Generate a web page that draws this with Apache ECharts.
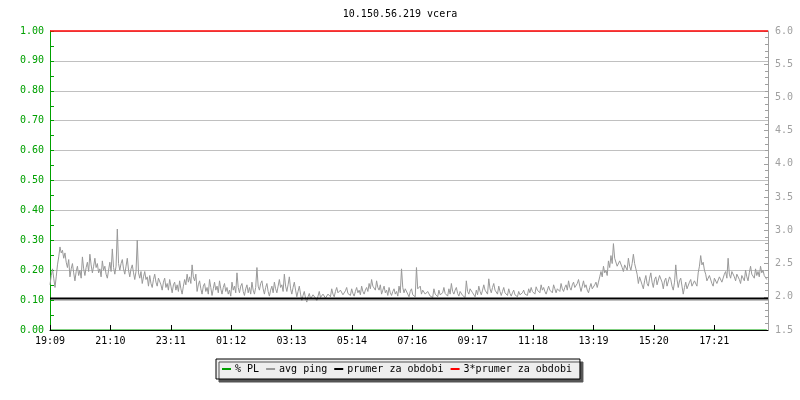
<!DOCTYPE html>
<html>
<head>
<meta charset="utf-8">
<script src="https://cdn.jsdelivr.net/npm/echarts@6/dist/echarts.min.js"></script>
<style>
html,body{margin:0;padding:0;background:#fff;}
#chart{width:800px;height:400px;}
</style>
</head>
<body>
<div id="chart"></div>
<script>
// ---- data ----
const titleText = '10.150.56.219 vcera';
const tickLabels = ['19:09','21:10','23:11','01:12','03:13','05:14','07:16','09:17','11:18','13:19','15:20','17:21'];
const tickStepMin = 121.1;      // minutes between time labels
const spanMin = 1440;           // 24 h window
const sampleStepMin = 2.5;      // minutes between ping samples
const legendNames = ['% PL', 'avg ping', 'prumer za obdobi', '3*prumer za obdobi'];
const plValue = 0.0;            // % packet loss (left axis)
const prumer = 1.975;           // average ping over the period (right axis)
const triplePrumer = 6.0;       // 3*prumer line (clipped at top of scale)
const leftTicks = {min: 0, max: 1, interval: 0.1};
const rightTicks = {min: 1.5, max: 6, interval: 0.5};
const avgPing = [
  2.18,2.32,2.42,2.28,2.14,2.30,2.48,2.60,2.75,2.66,2.70,2.58,2.66,2.52,2.44,2.56,2.30,2.42,2.50,2.36,
  2.24,2.38,2.46,2.32,2.40,2.28,2.60,2.42,2.32,2.44,2.52,2.38,2.64,2.48,2.36,2.46,2.58,2.44,2.50,2.36,
  2.42,2.30,2.54,2.40,2.46,2.34,2.28,2.40,2.52,2.38,2.72,2.44,2.34,2.46,3.02,2.50,2.40,2.50,2.56,2.42,
  2.34,2.46,2.58,2.40,2.30,2.42,2.48,2.36,2.26,2.38,2.85,2.36,2.28,2.38,2.20,2.30,2.38,2.26,2.30,2.16,
  2.32,2.20,2.14,2.26,2.34,2.22,2.16,2.28,2.30,2.18,2.10,2.22,2.28,2.14,2.20,2.10,2.26,2.16,2.06,2.18,
  2.22,2.10,2.18,2.08,2.24,2.12,2.04,2.16,2.26,2.18,2.34,2.22,2.30,2.20,2.48,2.30,2.24,2.34,2.08,2.18,
  2.24,2.12,2.04,2.16,2.20,2.08,2.14,2.04,2.26,2.14,2.02,2.12,2.22,2.10,2.16,2.06,2.24,2.12,2.04,2.14,
  2.20,2.08,2.14,2.04,2.10,2.01,2.22,2.10,2.16,2.06,2.36,2.14,2.06,2.16,2.20,2.08,2.02,2.12,2.18,2.06,
  2.14,2.04,2.22,2.10,2.04,2.14,2.44,2.16,2.10,2.20,2.24,2.12,2.04,2.14,2.20,2.08,2.01,2.10,2.16,2.06,
  2.22,2.12,2.06,2.16,2.26,2.14,2.18,2.08,2.34,2.16,2.08,2.18,2.30,2.12,2.04,2.14,2.22,2.10,2.00,2.08,
  2.16,2.04,1.94,2.02,2.08,1.98,1.92,2.00,2.05,1.97,1.95,2.03,2.06,1.98,1.94,2.01,2.08,1.99,1.96,2.04,
  2.05,1.98,1.96,2.04,2.07,2.00,2.12,2.04,2.00,2.08,2.14,2.06,2.04,2.10,2.12,2.03,2.02,2.09,2.14,2.05,
  2.08,2.02,2.12,2.05,2.01,2.08,2.14,2.06,2.10,2.03,2.16,2.08,2.04,2.10,2.14,2.08,2.20,2.12,2.26,2.16,
  2.18,2.10,2.24,2.14,2.10,2.18,2.04,2.10,2.16,2.06,2.10,2.02,2.14,2.06,2.02,2.08,2.12,2.04,2.08,2.01,
  2.16,2.06,2.42,2.14,2.06,2.12,2.14,2.04,2.00,2.08,2.12,2.03,2.06,2.00,2.44,2.12,2.10,2.16,2.04,2.10,
  2.12,2.04,2.02,2.08,2.10,2.01,2.04,1.99,2.12,2.04,2.06,2.00,2.10,2.03,2.00,2.06,2.14,2.05,2.07,2.01,
  2.12,2.04,2.20,2.08,2.04,2.10,2.14,2.05,2.01,2.08,2.10,2.02,2.04,1.99,2.24,2.08,2.04,2.12,2.14,2.06,
  2.06,2.00,2.10,2.03,2.16,2.08,2.03,2.10,2.18,2.10,2.12,2.04,2.27,2.12,2.06,2.14,2.20,2.10,2.12,2.04,
  2.16,2.08,2.02,2.08,2.14,2.06,2.08,2.02,2.12,2.05,2.01,2.06,2.10,2.03,2.06,2.00,2.08,2.03,2.00,2.06,
  2.10,2.04,2.07,2.02,2.12,2.06,2.14,2.08,2.10,2.04,2.15,2.10,2.12,2.06,2.18,2.10,2.14,2.08,2.04,2.10,
  2.16,2.10,2.12,2.06,2.18,2.12,2.06,2.12,2.14,2.08,2.20,2.12,2.08,2.14,2.18,2.10,2.24,2.14,2.10,2.18,
  2.22,2.14,2.12,2.20,2.26,2.16,2.08,2.16,2.24,2.14,2.18,2.10,2.06,2.14,2.20,2.12,2.10,2.18,2.22,2.14,
  2.22,2.30,2.38,2.30,2.46,2.36,2.40,2.32,2.54,2.44,2.62,2.50,2.80,2.58,2.56,2.46,2.44,2.54,2.56,2.44,
  2.38,2.48,2.50,2.40,2.58,2.46,2.40,2.50,2.64,2.50,2.42,2.34,2.20,2.30,2.32,2.18,2.12,2.24,2.32,2.20,
  2.16,2.28,2.36,2.22,2.14,2.26,2.30,2.18,2.20,2.32,2.34,2.22,2.12,2.24,2.28,2.16,2.18,2.30,2.26,2.16,
  2.10,2.22,2.48,2.26,2.14,2.24,2.28,2.16,2.04,2.14,2.22,2.12,2.12,2.22,2.26,2.16,2.14,2.24,2.24,2.16,
  2.36,2.46,2.62,2.48,2.52,2.40,2.34,2.24,2.22,2.32,2.34,2.20,2.16,2.28,2.30,2.20,2.18,2.30,2.32,2.22,
  2.22,2.34,2.38,2.28,2.58,2.34,2.28,2.38,2.40,2.30,2.24,2.34,2.36,2.26,2.20,2.32,2.32,2.24,2.40,2.30,
  2.24,2.36,2.46,2.34,2.36,2.28,2.42,2.32,2.38,2.30,2.46,2.36,2.40,2.32,2.30,2.26
];

// ---- chart ----
const FONT = 'DejaVu Sans Mono';
const GREEN = '#00a000';
const GRAYAX = '#a0a0a0';
const pingData = avgPing.map((v, i) => [i * sampleStepMin, v]);
const lastT = (avgPing.length - 1) * sampleStepMin;

const chart = echarts.init(document.getElementById('chart'), null, {renderer: 'canvas'});
chart.setOption({
  animation: false,
  backgroundColor: '#ffffff',
  title: {
    text: titleText, left: 'center', top: 4,
    textStyle: {fontFamily: FONT, fontSize: 10, fontWeight: 'normal', color: '#000'}
  },
  grid: {left: 50, right: 32, top: 31, bottom: 70, containLabel: false},
  legend: {
    data: legendNames,
    left: 216, top: 359,
    padding: [5, 8, 5, 6],
    itemGap: 7, itemWidth: 9, itemHeight: 2,
    icon: 'rect',
    backgroundColor: '#eeeeee',
    borderColor: '#000', borderWidth: 1,
    shadowColor: '#555', shadowOffsetX: 3, shadowOffsetY: 3, shadowBlur: 0,
    textStyle: {fontFamily: FONT, fontSize: 10, color: '#000', padding: [0,0,0,-1]}
  },
  xAxis: {
    type: 'value', min: 0, max: spanMin, interval: tickStepMin, z: 5,
    axisLine: {lineStyle: {color: '#000', width: 1}},
    axisTick: {inside: true, length: 5, lineStyle: {color: '#000'}},
    splitLine: {show: false},
    axisLabel: {
      fontFamily: FONT, fontSize: 10, color: '#000', margin: 6,
      showMaxLabel: false,
      formatter: v => { const k = Math.round(v / tickStepMin); return (Math.abs(v - k * tickStepMin) < 0.5 && tickLabels[k]) ? tickLabels[k] : ''; }
    }
  },
  yAxis: [
    {
      type: 'value', position: 'left', min: leftTicks.min, max: leftTicks.max, interval: leftTicks.interval,
      axisLine: {show: true, lineStyle: {color: GREEN, width: 1}},
      axisTick: {show: true, inside: true, length: 4, lineStyle: {color: GREEN}},
      minorTick: {show: true, splitNumber: 2, length: 4, lineStyle: {color: GREEN}},
      splitLine: {show: true, lineStyle: {color: '#c0c0c0', width: 1}},
      axisLabel: {fontFamily: FONT, fontSize: 10, color: GREEN, margin: 6, formatter: v => v.toFixed(2)}
    },
    {
      type: 'value', position: 'right', min: rightTicks.min, max: rightTicks.max, interval: rightTicks.interval,
      axisLine: {show: true, lineStyle: {color: GRAYAX, width: 1}},
      axisTick: {show: true, inside: true, length: 4, lineStyle: {color: GRAYAX}},
      minorTick: {show: true, splitNumber: 5, length: 3, lineStyle: {color: GRAYAX}},
      splitLine: {show: false},
      axisLabel: {fontFamily: FONT, fontSize: 10, color: GRAYAX, margin: 7, formatter: v => v.toFixed(1)}
    }
  ],
  series: [
    {
      name: legendNames[0], type: 'line', yAxisIndex: 0, showSymbol: false, symbol: 'none',
      itemStyle: {color: GREEN}, lineStyle: {color: GREEN, width: 1}, z: 1,
      data: [[0, plValue], [lastT, plValue]]
    },
    {
      name: legendNames[1], type: 'line', yAxisIndex: 1, showSymbol: false, symbol: 'none',
      itemStyle: {color: '#999999'}, lineStyle: {color: '#999999', width: 1},
      data: pingData
    },
    {
      name: legendNames[2], type: 'line', yAxisIndex: 1, showSymbol: false, symbol: 'none',
      itemStyle: {color: '#000'}, lineStyle: {color: '#000', width: 2},
      data: [[0, prumer], [spanMin, prumer]]
    },
    {
      name: legendNames[3], type: 'line', yAxisIndex: 1, showSymbol: false, symbol: 'none', clip: false,
      itemStyle: {color: '#ff0000'}, lineStyle: {color: '#ff0000', width: 1.5},
      data: [[0, triplePrumer], [spanMin, triplePrumer]]
    }
  ]
});
</script>
</body>
</html>
